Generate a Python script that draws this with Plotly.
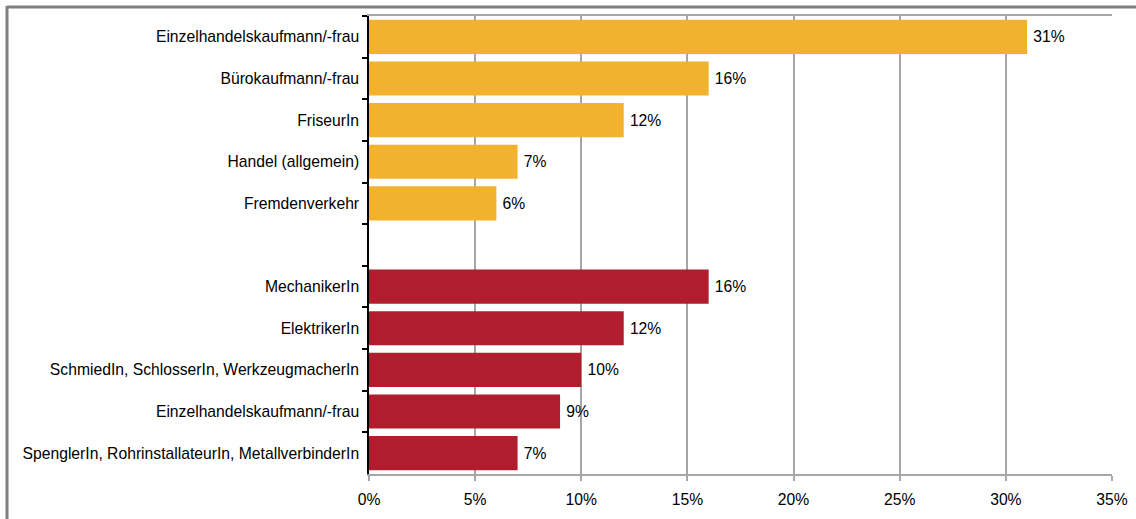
import plotly.graph_objects as go

# Occupation categories (top to bottom); the blank entry separates the two groups
categories = [
    "Einzelhandelskaufmann/-frau",
    "Bürokaufmann/-frau",
    "FriseurIn",
    "Handel (allgemein)",
    "Fremdenverkehr",
    "",
    "MechanikerIn",
    "ElektrikerIn",
    "SchmiedIn, SchlosserIn, WerkzeugmacherIn",
    "Einzelhandelskaufmann/-frau\u200b",
    "SpenglerIn, RohrinstallateurIn, MetallverbinderIn",
]
group_a = [31, 16, 12, 7, 6]
group_b = [16, 12, 10, 9, 7]
x_ticks = [0, 5, 10, 15, 20, 25, 30, 35]
x_ticktext = ["0%", "5%", "10%", "15%", "20%", "25%", "30%", "35%"]

ORANGE = "#F2B22E"
RED = "#B01E2E"
FONT = "Liberation Sans, Arial, sans-serif"
FS = 15.7

fig = go.Figure()
for ys, xs, col in [(categories[:5], group_a, ORANGE), (categories[6:], group_b, RED)]:
    fig.add_trace(go.Bar(
        y=ys, x=xs, orientation="h",
        marker=dict(color=col, line=dict(width=0)),
        text=[f"\u2009{v}%" for v in xs], textposition="outside",
        textfont=dict(size=FS, color="#000000", family=FONT),
        cliponaxis=False, width=0.82, showlegend=False,
    ))

W, H = 1136, 519
ml, mr, mt, mb = 369, 24, 16, 45
pw, ph = W - ml - mr, H - mt - mb

def px_x(p):
    return (p - ml) / pw

def px_y(p):
    return 1 - (p - mt) / ph

fig.update_layout(
    width=W, height=H,
    margin=dict(l=ml, r=mr, t=mt, b=mb, pad=0, autoexpand=False),
    paper_bgcolor="white", plot_bgcolor="white",
    font=dict(family=FONT, size=FS, color="#000000"),
    xaxis=dict(
        range=[0, 35], tickvals=x_ticks, ticktext=x_ticktext,
        showgrid=True, gridcolor="#A6A6A6", gridwidth=1.5,
        showline=True, linecolor="#A6A6A6", linewidth=1.5, mirror=True,
        ticks="outside", ticklen=5, tickcolor="#A6A6A6", tickwidth=1.5,
        tickfont=dict(size=FS, family=FONT), ticklabelstandoff=5,
        zeroline=False, automargin=False,
    ),
    yaxis=dict(
        type="category", categoryorder="array", categoryarray=categories,
        autorange="reversed", tickson="boundaries",
        showgrid=False, showline=True, linecolor="#000000", linewidth=1.5,
        ticks="outside", ticklen=5, tickcolor="#000000", tickwidth=1.5,
        tickfont=dict(size=FS, family=FONT), ticklabelstandoff=5,
        automargin=False,
    ),
    shapes=[
        # outer frame (top and left edges)
        dict(type="line", xref="paper", yref="paper",
             x0=px_x(7), x1=px_x(1140), y0=px_y(7), y1=px_y(7),
             line=dict(color="#808080", width=3)),
        dict(type="line", xref="paper", yref="paper",
             x0=px_x(7), x1=px_x(7), y0=px_y(6), y1=px_y(525),
             line=dict(color="#808080", width=3)),
    ],
)

fig.write_html("out.html")
